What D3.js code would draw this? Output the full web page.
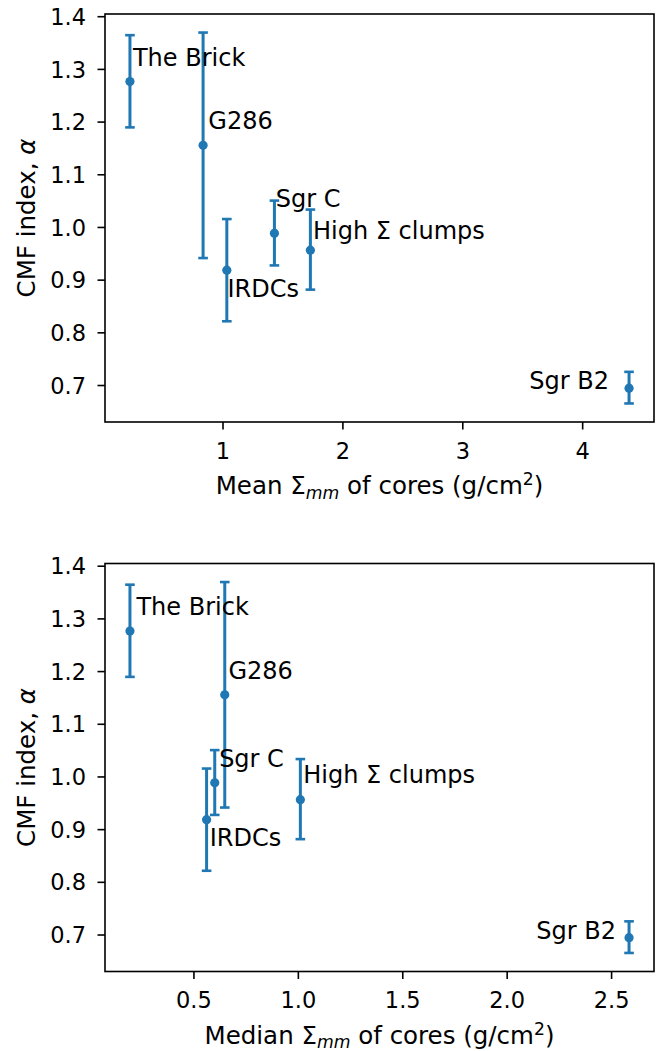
<!DOCTYPE html>
<html>
<head>
<meta charset="utf-8">
<script src="https://cdn.jsdelivr.net/npm/d3@7"></script>
<style>
  body { margin: 0; background: #fff; }
  text { font-family: "DejaVu Sans", sans-serif; }
</style>
</head>
<body>
<script>
// data
var regions = ["The Brick", "G286", "IRDCs", "Sgr C", "High \u03A3 clumps", "Sgr B2"];
var alpha = [1.276, 1.155, 0.918, 0.988, 0.956, 0.694];
var alphaLo = [1.189, 0.941, 0.821, 0.927, 0.881, 0.665];
var alphaHi = [1.364, 1.369, 1.015, 1.050, 1.033, 0.725];
var meanSigma = [0.228, 0.838, 1.036, 1.433, 1.733, 4.391];
var medianSigma = [0.196, 0.650, 0.563, 0.602, 1.012, 2.586];
var yTicks = [0.7, 0.8, 0.9, 1.0, 1.1, 1.2, 1.3, 1.4];
var meanTicks = [1, 2, 3, 4];
var medianTicks = [0.5, 1.0, 1.5, 2.0, 2.5];

var width = 660;
var height = 1051;
var marginLeft = 105;
var plotW = 549;
var plotH = 408;
var blue = "#1f77b4";
var tickLen = 7.5;

var svg = d3.select("body")
            .append("svg")
            .attr("width", width)
            .attr("height", height);

// 5% padding like matplotlib autoscale
function padded(lo, hi) {
  var r = hi - lo;
  return [lo - 0.05 * r, hi + 0.05 * r];
}

// label offsets in px: [dx, dy, anchor]
var offsetsMean = [[3, -15.5, "start"], [5.2, -16, "start"], [0.6, 27, "start"],
                   [1.4, -26, "start"], [2.6, -11, "start"], [-20, 0.5, "end"]];
var offsetsMedian = [[6.5, -16, "start"], [3.7, -15.7, "start"], [3.2, 26.7, "start"],
                     [4.4, -16, "start"], [2.9, -16.7, "start"], [-13, 1.5, "end"]];

function panel(top, xs, xTicks, xFmt, xWord, offsets) {
  var rows = regions.map(function(name, i) {
    return {name: name, x: xs[i], y: alpha[i], lo: alphaLo[i], hi: alphaHi[i], off: offsets[i]};
  });

  var xScale = d3.scaleLinear()
                 .domain(padded(d3.min(xs), d3.max(xs)))
                 .range([0, plotW]);
  var yScale = d3.scaleLinear()
                 .domain(padded(d3.min(alphaLo), d3.max(alphaHi)))
                 .range([plotH, 0]);

  var g = svg.append("g")
             .attr("transform", `translate(${marginLeft},${top})`);

  var xAxis = d3.axisBottom(xScale)
                .tickValues(xTicks)
                .tickFormat(d3.format(xFmt))
                .tickSizeInner(tickLen)
                .tickSizeOuter(0)
                .tickPadding(6);
  var yAxis = d3.axisLeft(yScale)
                .tickValues(yTicks)
                .tickFormat(d3.format(".1f"))
                .tickSizeInner(tickLen)
                .tickSizeOuter(0)
                .tickPadding(7);

  var gx = g.append("g")
            .attr("transform", `translate(0,${plotH})`)
            .call(xAxis);
  var gy = g.append("g").call(yAxis);

  [gx, gy].forEach(function(a) {
    a.select(".domain").remove();
    a.selectAll("line").attr("stroke", "#000").attr("stroke-width", 1.6);
    a.selectAll("text")
     .attr("font-family", "DejaVu Sans")
     .attr("font-size", 22.5)
     .attr("fill", "#000");
  });
  gx.selectAll("text").attr("dy", null).attr("y", 36.7);
  gy.selectAll("text").attr("dy", "0.36em").attr("x", -19);

  // frame
  g.append("rect")
   .attr("width", plotW)
   .attr("height", plotH)
   .attr("fill", "none")
   .attr("stroke", "#000")
   .attr("stroke-width", 1.6);

  // error bars
  var bars = g.selectAll(".bar")
              .data(rows)
              .join("g");
  bars.append("line")
      .attr("x1", d => xScale(d.x)).attr("x2", d => xScale(d.x))
      .attr("y1", d => yScale(d.lo)).attr("y2", d => yScale(d.hi))
      .attr("stroke", blue).attr("stroke-width", 3);
  ["lo", "hi"].forEach(function(k) {
    bars.append("line")
        .attr("x1", d => xScale(d.x) - 4.8).attr("x2", d => xScale(d.x) + 4.8)
        .attr("y1", d => yScale(d[k])).attr("y2", d => yScale(d[k]))
        .attr("stroke", blue).attr("stroke-width", 2.6);
  });
  bars.append("circle")
      .attr("cx", d => xScale(d.x))
      .attr("cy", d => yScale(d.y))
      .attr("r", 4.6)
      .attr("fill", blue);

  // annotations
  g.selectAll(".lbl")
   .data(rows)
   .join("text")
     .attr("x", d => xScale(d.x) + d.off[0])
     .attr("y", d => yScale(d.y) + d.off[1])
     .attr("text-anchor", d => d.off[2])
     .attr("font-size", 24)
     .attr("fill", "#000")
     .text(d => d.name);

  // x label with mathtext-like sub/superscripts
  var xl = g.append("text")
            .attr("x", plotW / 2)
            .attr("y", plotH + 72)
            .attr("text-anchor", "middle")
            .attr("font-size", 24.5)
            .attr("fill", "#000");
  xl.append("tspan").text(xWord + " \u03A3");
  xl.append("tspan").attr("font-style", "italic").attr("font-size", 17.2).attr("dy", 4.5).text("mm");
  xl.append("tspan").attr("dy", -4.5).text(" of cores (g/cm");
  xl.append("tspan").attr("font-size", 17.2).attr("dy", -9).text("2");
  xl.append("tspan").attr("dy", 9).text(")");

  // y label
  var yl = g.append("text")
            .attr("transform", `translate(${-70},${plotH / 2}) rotate(-90)`)
            .attr("text-anchor", "middle")
            .attr("font-size", 24.5)
            .attr("fill", "#000");
  yl.append("tspan").text("CMF index, ");
  yl.append("tspan").attr("font-style", "italic").text("\u03B1");
}

panel(14, meanSigma, meanTicks, "d", "Mean", offsetsMean);
panel(563.5, medianSigma, medianTicks, ".1f", "Median", offsetsMedian);
</script>
</body>
</html>
